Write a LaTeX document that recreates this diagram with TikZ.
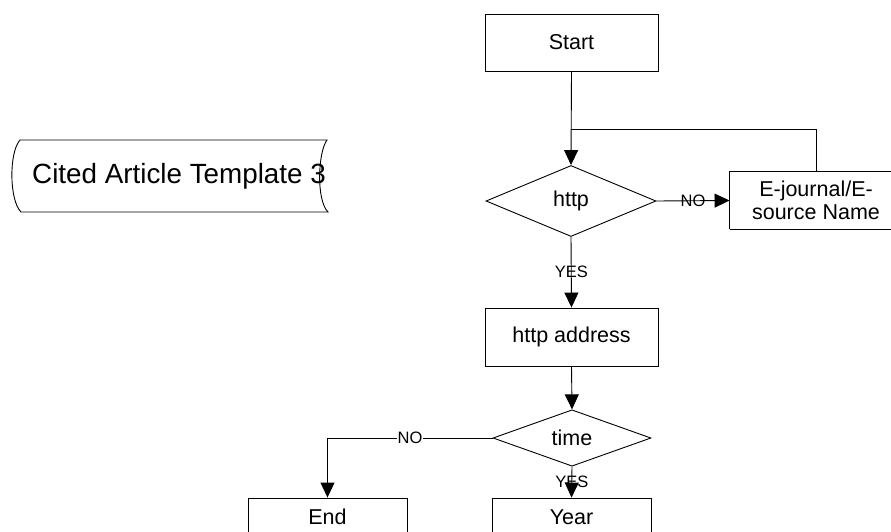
\documentclass[tikz,border=0pt]{standalone}
\usepackage{fontspec}
\setmainfont{Liberation Sans}
\usetikzlibrary{shapes.geometric,arrows.meta}

\tikzset{
  flowbox/.style={draw, line width=0.9pt, minimum width=172pt, minimum height=57pt,
    inner sep=0pt, font=\fontsize{21.5}{23}\selectfont, align=center},
  decision/.style={draw, diamond, line width=0.9pt, inner sep=0pt,
    font=\fontsize{21.5}{23}\selectfont},
  link/.style={line width=0.9pt},
  flow/.style={link, -{Triangle[length=15pt,width=14pt]}},
  tag/.style={font=\fontsize{16.5}{18}\selectfont, inner sep=1pt},
}

\begin{document}
\begin{tikzpicture}[x=1pt,y=-1pt]
  \useasboundingbox (0,0) rectangle (891,532);
  \fill[white] (0,0) rectangle (891,532);
  \clip (0,0) rectangle (891,532);

  % stored-data symbol with the template title
  \draw[line width=0.9pt] (20,140) -- (327,140)
    .. controls (318,152) and (316,200) .. (328,212)
    -- (21,212)
    .. controls (9,200) and (9,152) .. cycle;
  \node[font=\fontsize{27.8}{29}\selectfont, inner sep=0pt] (cited) at (179,176) {Cited Article Template 3};

  % main flow
  \node[flowbox, minimum width=173pt] (start) at (571.5,42.5) {Start};
  \node[decision, minimum width=170pt, minimum height=71pt] (http) at (571,201) {http};
  \node[flowbox, minimum width=172pt, minimum height=57pt, draw=none] (ej) at (816,200.5) {E-journal/E-\\source Name};
  \draw[line width=0.9pt] (ej.south west) -- (ej.north west) -- ++(200,0)
    (ej.south west) -- ++(200,0);
  \node[flowbox, minimum width=173pt, minimum height=58pt] (addr) at (571.5,337) {http address};
  \node[decision, minimum width=158pt, minimum height=50pt] (time) at (572,438) {time};
  \node[flowbox, minimum width=159pt, minimum height=38pt] (end) at (327.5,517) {End};
  \node[flowbox, minimum width=159pt, minimum height=38pt] (year) at (571.5,517) {Year};

  \coordinate (join) at (571,129);

  \draw[flow] (start.south) -- (http.north);
  \draw[link] (ej.north) |- (join);
  \draw[flow] (http.east) -- node[tag] {NO} (ej.west);
  \draw[flow] (http.south) -- node[tag, pos=0.5] {YES} (addr.north);
  \draw[flow] (addr.south) -- (time.north);
  \draw[flow] (time.west) -| node[tag, pos=0.25, fill=white] {NO} (end.north);
  \draw[flow] (time.south) -- node[tag, pos=0.5] {YES} (year.north);
\end{tikzpicture}
\end{document}
